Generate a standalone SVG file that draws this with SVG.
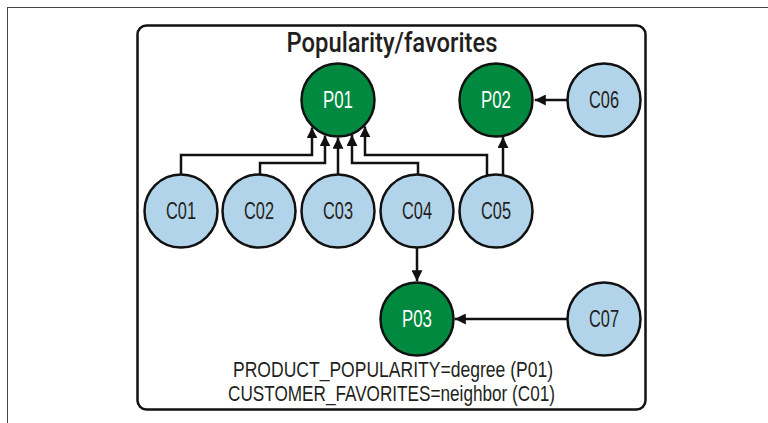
<svg xmlns="http://www.w3.org/2000/svg" width="768" height="423" viewBox="0 0 768 423">
<style>
.prod circle{fill:#00893f;stroke:#111;stroke-width:2.5}
.cust circle{fill:#b2d4ea;stroke:#111;stroke-width:2.5}
.lbl{font-family:"Liberation Sans",Arial,sans-serif;font-size:23px;text-anchor:middle}
.prod text{fill:#fff}
.cust text{fill:#231f20}
.conn path{fill:none;stroke:#111;stroke-width:2.5;marker-end:url(#ah)}
.cap{font-family:"Liberation Sans",Arial,sans-serif;font-size:22px;fill:#231f20;text-anchor:middle}
</style>
<defs>
<marker id="ah" markerUnits="userSpaceOnUse" markerWidth="12" markerHeight="11" refX="11" refY="5.5" orient="auto">
<path d="M0,0 L11,5.5 L0,11 z" fill="#111"/>
</marker>
</defs>
<rect x="0" y="0" width="768" height="423" fill="#fff"/>
<rect x="7.5" y="7.5" width="800" height="500" fill="none" stroke="#444" stroke-width="1"/>
<rect id="frame" x="137.5" y="25.5" width="508" height="384" rx="9" fill="#fff" stroke="#111" stroke-width="2.5"/>
<text x="392" y="52" font-family="Roboto,'Liberation Sans',sans-serif" font-size="27" font-weight="500" fill="#231f20" text-anchor="middle" textLength="211" lengthAdjust="spacingAndGlyphs">Popularity/favorites</text>
<g id="connectors" class="conn">
<path d="M181,180 V155 H312 V127.4"/>
<path d="M260,180 V163 H325 V135.4"/>
<path d="M338,180 V137.8"/>
<path d="M418,180 V163 H352 V135.1"/>
<path d="M487,180 V155 H365 V126.4"/>
<path d="M503,180 V137.1"/>
<path d="M570,100 H534.8"/>
<path d="M417,245 V281.2"/>
<path d="M570,319 H454.8"/>
</g>
<g id="P01" class="prod"><circle cx="338" cy="100" r="36.5"/><text class="lbl" x="338" y="108" textLength="30" lengthAdjust="spacingAndGlyphs">P01</text></g>
<g id="P02" class="prod"><circle cx="496" cy="100" r="36.5"/><text class="lbl" x="496" y="108" textLength="30" lengthAdjust="spacingAndGlyphs">P02</text></g>
<g id="C06" class="cust"><circle cx="604" cy="100" r="36.5"/><text class="lbl" x="604" y="108" textLength="30" lengthAdjust="spacingAndGlyphs">C06</text></g>
<g id="C01" class="cust"><circle cx="181" cy="211" r="36.5"/><text class="lbl" x="181" y="219" textLength="30" lengthAdjust="spacingAndGlyphs">C01</text></g>
<g id="C02" class="cust"><circle cx="259" cy="211" r="36.5"/><text class="lbl" x="259" y="219" textLength="30" lengthAdjust="spacingAndGlyphs">C02</text></g>
<g id="C03" class="cust"><circle cx="338" cy="211" r="36.5"/><text class="lbl" x="338" y="219" textLength="30" lengthAdjust="spacingAndGlyphs">C03</text></g>
<g id="C04" class="cust"><circle cx="417" cy="211" r="36.5"/><text class="lbl" x="417" y="219" textLength="30" lengthAdjust="spacingAndGlyphs">C04</text></g>
<g id="C05" class="cust"><circle cx="496" cy="211" r="36.5"/><text class="lbl" x="496" y="219" textLength="30" lengthAdjust="spacingAndGlyphs">C05</text></g>
<g id="P03" class="prod"><circle cx="417" cy="319" r="36.5"/><text class="lbl" x="417" y="327" textLength="30" lengthAdjust="spacingAndGlyphs">P03</text></g>
<g id="C07" class="cust"><circle cx="604" cy="319" r="36.5"/><text class="lbl" x="604" y="327" textLength="30" lengthAdjust="spacingAndGlyphs">C07</text></g>
<text class="cap" x="393" y="377" textLength="320" lengthAdjust="spacingAndGlyphs">PRODUCT_POPULARITY=degree (P01)</text>
<text class="cap" x="391.5" y="401" textLength="327" lengthAdjust="spacingAndGlyphs">CUSTOMER_FAVORITES=neighbor (C01)</text>
</svg>
